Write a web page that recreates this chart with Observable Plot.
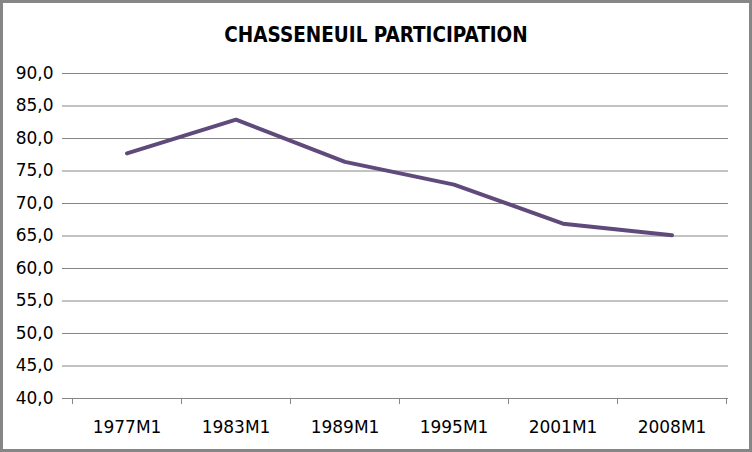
<!DOCTYPE html>
<html>
<head>
<meta charset="utf-8">
<script src="https://cdn.jsdelivr.net/npm/d3@7"></script>
<script src="https://cdn.jsdelivr.net/npm/@observablehq/plot@0.6"></script>
<style>
  html, body { margin: 0; padding: 0; background: #fff; }
  #wrap { position: relative; width: 752px; height: 452px; background: #fff; overflow: hidden; }
  #title { position: absolute; left: 0; width: 752px; top: 25px; text-align: center;
    font-family: "DejaVu Sans Condensed", "DejaVu Sans", sans-serif; font-stretch: condensed;
    font-weight: bold; font-size: 20.5px; line-height: 20px; color: #000; }
  #border { position: absolute; left: 0; top: 0; width: 752px; height: 452px; box-sizing: border-box;
    border: 3px solid #868686; pointer-events: none; }
  #chart svg { display: block; }
</style>
</head>
<body>
<div id="wrap">
  <div id="chart"></div>
  <div id="title">CHASSENEUIL PARTICIPATION</div>
  <div id="border"></div>
</div>
<script>
const categories = ["1977M1", "1983M1", "1989M1", "1995M1", "2001M1", "2008M1"];
const participation = [77.7, 82.9, 76.4, 72.9, 66.9, 65.1];
const yTicks = [40, 45, 50, 55, 60, 65, 70, 75, 80, 85, 90];

const data = categories.map((c, i) => ({period: c, value: participation[i]}));
const grey = "#868686";

const plot = Plot.plot({
  width: 752,
  height: 452,
  marginLeft: 70,
  marginRight: 24,
  marginTop: 73,
  marginBottom: 54,
  style: {fontFamily: "'DejaVu Sans', sans-serif", fontSize: "17px", color: "#000", background: "transparent"},
  x: {type: "band", domain: categories, padding: 0, label: null},
  y: {domain: [40, 90], label: null},
  marks: [
    Plot.gridY(yTicks, {stroke: grey, strokeOpacity: 1, strokeWidth: 1}),
    Plot.axisY(yTicks, {
      tickSize: 8, tickPadding: 9, stroke: grey, strokeOpacity: 1, line: true,
      tickFormat: d => d.toFixed(1).replace(".", ","), label: null, fontSize: 17
    }),
    Plot.axisX({tickSize: 0, tickPadding: 22, label: null, fontSize: 17}),
    Plot.line(data, {x: "period", y: "value", stroke: "#604A7B", strokeWidth: 4,
      strokeLinejoin: "round", strokeLinecap: "round"})
  ]
});

// boundary ticks on the category axis, placed with Plot's own x scale
const xs = plot.scale("x");
const ys = plot.scale("y");
const y0 = ys.apply(40);
const bounds = categories.map(c => xs.apply(c)).concat([xs.apply(categories[categories.length - 1]) + xs.bandwidth]);
const g = d3.select(plot).append("g").attr("stroke", grey).attr("stroke-width", 1);
g.selectAll("line").data(bounds).join("line")
  .attr("x1", d => Math.round(d) + 0.5).attr("x2", d => Math.round(d) + 0.5)
  .attr("y1", y0).attr("y2", y0 + 6);

document.getElementById("chart").appendChild(plot);
</script>
</body>
</html>
